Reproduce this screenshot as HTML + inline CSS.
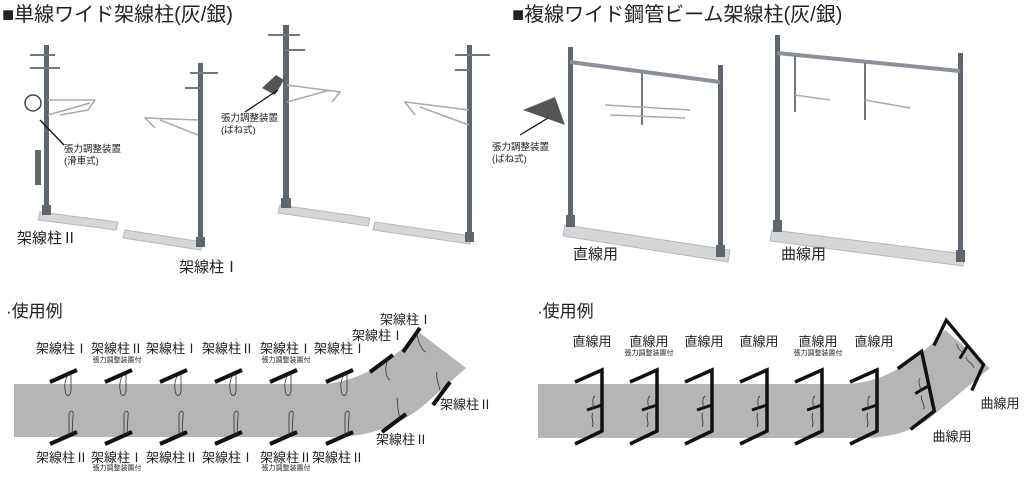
<!DOCTYPE html>
<html><head><meta charset="utf-8"><style>
html,body{margin:0;padding:0;background:#fff;}
svg{display:block}
text{font-family:"Liberation Sans","Noto Sans CJK JP",sans-serif;fill:#222;}
.t{font-size:20px}
.l{font-size:13px}
.s{font-size:7px}
.n{font-size:9.5px}
</style></head><body>
<svg width="1024" height="490" viewBox="0 0 1024 490" xmlns="http://www.w3.org/2000/svg">
<defs>
<g id="pole1"><line x1="0" y1="12" x2="27" y2="0" stroke="#111" stroke-width="4"/><path d="M20,3 C14,8 14,18 16,24 C18,27 21,25 21,20 L21,5" fill="none" stroke="#333" stroke-width="0.8"/></g>
<g id="pole2"><line x1="0" y1="12" x2="27" y2="0" stroke="#111" stroke-width="4"/><path d="M19,5 L19,-18 C21,-23 24,-21 23,-16 L22,3" fill="none" stroke="#333" stroke-width="0.8"/></g>
<g id="frame"><path d="M0,13 L27,1 L27,62 L0,75" fill="none" stroke="#111" stroke-width="3.5"/><line x1="12" y1="41" x2="27" y2="36" stroke="#111" stroke-width="3"/><path d="M20,27 C16,30 19,36 18,40 M18,44 C15,48 20,54 17,58" fill="none" stroke="#333" stroke-width="0.8"/></g>
</defs>
<text x="2" y="21" class="t">■単線ワイド架線柱(灰/銀)</text>
<text x="512" y="21" class="t">■複線ワイド鋼管ビーム架線柱(灰/銀)</text>
<g fill="#d4d6d8" stroke="#b5b8bb" stroke-width="1">
<path d="M40,212 L118,222 L116,230 L38,220 Z"/>
<path d="M125,230 L203,242 L201,250 L123,238 Z"/>
<path d="M280,205 L370,218 L368,226 L278,213 Z"/>
<path d="M375,222 L472,236 L470,244 L373,230 Z"/>
<path d="M565,225 L730,250 L728,262 L563,236 Z"/>
<path d="M772,230 L965,254 L963,266 L770,241 Z"/>
</g>
<g fill="#5e6670">
<rect x="44" y="45" width="5" height="170"/>
<rect x="198" y="63" width="5" height="182"/>
<rect x="283" y="25" width="6" height="182"/>
<rect x="467" y="45" width="5" height="195"/>
<rect x="568" y="47" width="5" height="178"/>
<rect x="718" y="65" width="5" height="190"/>
<rect x="775" y="35" width="5" height="195"/>
<rect x="958" y="53" width="5" height="207"/>
<rect x="42" y="205" width="9" height="10"/><rect x="196" y="237" width="9" height="10"/><rect x="281" y="198" width="10" height="10"/><rect x="465" y="232" width="9" height="10"/>
<rect x="566" y="215" width="9" height="12"/><rect x="716" y="245" width="9" height="12"/><rect x="773" y="220" width="9" height="12"/><rect x="956" y="250" width="9" height="12"/>
</g>
<g stroke="#8a9098" stroke-width="4" fill="none">
<line x1="570" y1="62" x2="720" y2="82"/>
<line x1="777" y1="53" x2="960" y2="71"/>
</g>
<g stroke="#707880" stroke-width="2" fill="none">
<line x1="642" y1="73" x2="642" y2="125"/>
<line x1="795" y1="56" x2="795" y2="112"/>
<line x1="865" y1="63" x2="865" y2="120"/>
<path d="M30,55 H55 M30,68 H60 M190,73 H218 M185,88 H200 M268,35 H300 M285,50 H305 M455,55 H490 M455,70 H469"/>
</g>
<g stroke="#aaa" stroke-width="1.5" fill="none">
<path d="M48,100 L95,100 L88,110 L60,115 M48,115 L90,103"/>
<path d="M198,120 L145,118 L155,128 M198,135 L160,120"/>
<path d="M287,85 L340,92 L332,102 M287,102 L330,90"/>
<path d="M469,110 L405,102 L415,115 M469,125 L420,107"/>
<path d="M605,105 L690,110 M610,115 L685,118"/>
<path d="M795,95 L830,100 M865,100 L910,108"/>
</g>
<circle cx="33" cy="103" r="8" fill="none" stroke="#444" stroke-width="1.5"/>
<rect x="35" y="150" width="6" height="35" fill="#666"/>
<path d="M262,88 L276,75 L284,80 L275,95 Z M523,110 L555,97 L565,125 Z" fill="#555"/>
<g stroke="#111" stroke-width="1.3"><line x1="40" y1="120" x2="64" y2="145"/><line x1="245" y1="112" x2="278" y2="90"/><line x1="520" y1="135" x2="548" y2="118"/></g>
<text x="64" y="152" class="n">張力調整装置</text><text x="64" y="164" class="n">(滑車式)</text>
<text x="221" y="121" class="n">張力調整装置</text><text x="221" y="133" class="n">(ばね式)</text>
<text x="492" y="150" class="n">張力調整装置</text><text x="492" y="162" class="n">(ばね式)</text>
<text x="17" y="243" class="l" style="font-size:15px">架線柱Ⅱ</text>
<text x="179" y="272" class="l" style="font-size:15px">架線柱Ⅰ</text>
<text x="573" y="259" class="l" style="font-size:15px">直線用</text>
<text x="781" y="259" class="l" style="font-size:15px">曲線用</text>
<text x="6" y="317" style="font-size:17px">·使用例</text>
<text x="537" y="317" style="font-size:17px">·使用例</text>
<path d="M14,384 H325 Q372,380 420,333 L466,368 L432,398 Q390,438 330,437 H14 Z" fill="#b5b5b5"/>
<path d="M538,384 H850 Q900,380 945,330 L990,368 L930,418 Q905,438 860,438 H538 Z" fill="#b5b5b5"/>
<use href="#pole1" x="50" y="370"/><use href="#pole1" x="105" y="370"/><use href="#pole1" x="160" y="370"/><use href="#pole1" x="215" y="370"/><use href="#pole1" x="270" y="370"/><use href="#pole1" x="326" y="370"/>
<use href="#pole2" x="50" y="432"/><use href="#pole2" x="105" y="432"/><use href="#pole2" x="160" y="432"/><use href="#pole2" x="215" y="432"/><use href="#pole2" x="270" y="432"/><use href="#pole2" x="326" y="432"/>
<g stroke="#111" stroke-width="4"><line x1="370" y1="372" x2="393" y2="355"/><line x1="403" y1="352" x2="420" y2="328"/><line x1="382" y1="432" x2="406" y2="414"/><line x1="433" y1="405" x2="450" y2="382"/></g>
<g stroke="#333" stroke-width="0.8" fill="none"><path d="M388,360 C384,368 386,378 390,380 M417,334 C418,342 423,352 426,352 M400,418 C397,410 398,402 397,398 M440,390 C438,383 436,377 437,372"/></g>
<g class="l" text-anchor="middle">
<text x="62" y="353">架線柱Ⅰ</text><text x="117" y="353">架線柱Ⅱ</text><text x="172" y="353">架線柱Ⅰ</text><text x="228" y="353">架線柱Ⅱ</text><text x="286" y="353">架線柱Ⅰ</text><text x="340" y="353">架線柱Ⅰ</text>
<text x="62" y="462">架線柱Ⅱ</text><text x="117" y="462">架線柱Ⅰ</text><text x="172" y="462">架線柱Ⅱ</text><text x="228" y="462">架線柱Ⅰ</text><text x="286" y="462">架線柱Ⅱ</text><text x="338" y="462">架線柱Ⅱ</text>
<text x="406" y="324">架線柱Ⅰ</text><text x="378" y="340">架線柱Ⅰ</text><text x="466" y="409">架線柱Ⅱ</text><text x="402" y="444">架線柱Ⅱ</text>
<text x="592" y="346">直線用</text><text x="649" y="346">直線用</text><text x="704" y="346">直線用</text><text x="759" y="346">直線用</text><text x="818" y="346">直線用</text><text x="874" y="346">直線用</text>
<text x="1000" y="408">曲線用</text><text x="952" y="441">曲線用</text>
</g>
<g class="s" text-anchor="middle">
<text x="117" y="362">張力調整装置付</text><text x="286" y="362">張力調整装置付</text>
<text x="117" y="470">張力調整装置付</text><text x="286" y="470">張力調整装置付</text>
<text x="649" y="355">張力調整装置付</text><text x="818" y="355">張力調整装置付</text>
</g>
<use href="#frame" x="575" y="369"/><use href="#frame" x="630" y="369"/><use href="#frame" x="685" y="369"/><use href="#frame" x="740" y="369"/><use href="#frame" x="795" y="369"/><use href="#frame" x="850" y="369"/>
<g transform="translate(895,356) rotate(-12)"><use href="#frame"/></g>
<g transform="translate(926,336) rotate(-40) scale(0.95)"><use href="#frame"/></g>
</svg>
</body></html>
